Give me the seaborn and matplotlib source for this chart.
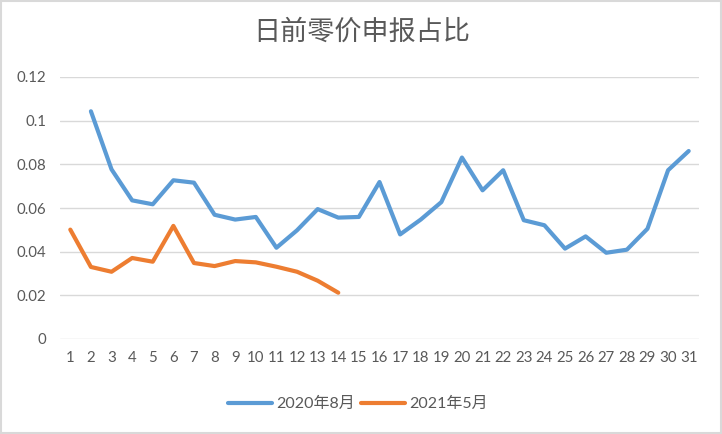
import numpy as np
import pandas as pd
import matplotlib
matplotlib.use("Agg")
import matplotlib.pyplot as plt
import seaborn as sns
from matplotlib.patches import Rectangle

days = list(range(1, 32))
aug_2020 = [np.nan, 0.1043, 0.0777, 0.0635, 0.0617, 0.0727, 0.0716, 0.0569, 0.0547, 0.0559,
            0.0418, 0.0498, 0.0595, 0.0556, 0.0559, 0.0719, 0.0479, 0.0547, 0.0627, 0.0831,
            0.0681, 0.0773, 0.0544, 0.0521, 0.0414, 0.0470, 0.0395, 0.0409, 0.0505, 0.0773,
            0.0861]
may_2021 = [0.0501, 0.0330, 0.0308, 0.0371, 0.0354, 0.0518, 0.0348, 0.0334, 0.0357, 0.0351,
            0.0331, 0.0308, 0.0267, 0.0212]
series_names = ["2020年8月", "2021年5月"]
y_ticks = [0, 0.02, 0.04, 0.06, 0.08, 0.1, 0.12]
title = "日前零价申报占比"

df = pd.concat([
    pd.DataFrame({"day": days, "value": aug_2020, "series": series_names[0]}),
    pd.DataFrame({"day": days[:len(may_2021)], "value": may_2021, "series": series_names[1]}),
], ignore_index=True)

sns.set_style("white")
plt.rcParams["font.family"] = ["Lato", "Noto Sans CJK SC", "DejaVu Sans"]
grey = "#595959"

fig = plt.figure(figsize=(7.22, 4.34), dpi=100)
ax = fig.add_axes([60 / 722, 1 - 339 / 434, 639 / 722, 262 / 434])

sns.lineplot(data=df, x="day", y="value", hue="series", ax=ax,
             palette=["#5B9BD5", "#ED7D31"], linewidth=3, legend=True)

ax.set_xlim(0.5, 31.5)
ax.set_ylim(0, 0.12)
ax.set_xticks(days)
ax.set_xticklabels([str(d) for d in days])
ax.set_yticks(y_ticks)
ax.set_yticklabels([f"{v:g}" for v in y_ticks])
ax.tick_params(axis="x", length=0, pad=9, labelsize=10.8, labelcolor=grey)
ax.tick_params(axis="y", length=0, pad=10, labelsize=10.8, labelcolor=grey)
ax.set_xlabel("")
ax.set_ylabel("")
ax.yaxis.grid(True, color="#D9D9D9", linewidth=1)
ax.set_axisbelow(True)
for s in ax.spines.values():
    s.set_visible(False)

leg = ax.legend(loc="center", bbox_to_anchor=((358 - 60) / 639, (339 - 404) / 262),
                ncol=2, frameon=False, fontsize=11.5, handlelength=2.75,
                handletextpad=0.25, columnspacing=0.4)
for t in leg.get_texts():
    t.set_color(grey)
for ln in leg.get_lines():
    ln.set_linewidth(3)

fig.text(362 / 722, 1 - 32 / 434, title, ha="center", va="center",
         fontsize=19.5, fontweight="light", color=grey,
         family=["Noto Sans CJK SC", "DejaVu Sans"])

fig.patches.append(Rectangle((0.002, 0.003), 0.996, 0.994, transform=fig.transFigure,
                             fill=False, edgecolor="#D9D9D9", linewidth=1.5))

fig.savefig("out.png", dpi=100)
